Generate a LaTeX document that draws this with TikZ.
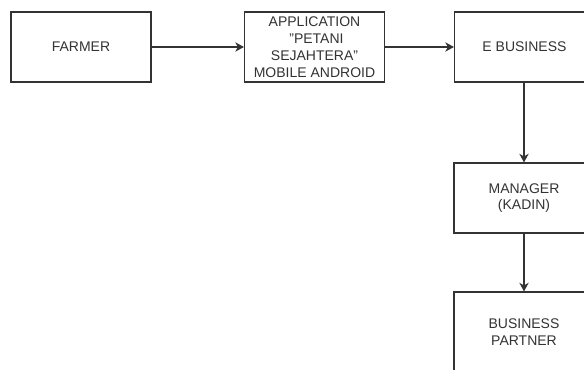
\documentclass[tikz,border=0pt]{standalone}
\usepackage{fontspec}
\setmainfont{Liberation Sans}
\usetikzlibrary{arrows.meta}
\definecolor{ln}{HTML}{333333}
\definecolor{tx}{HTML}{333333}
\newcommand{\sq}{\char34\relax}
\begin{document}
\begin{tikzpicture}[x=0.75pt,y=-0.75pt,
  box/.style={draw=ln, line width=0.85pt, fill=white, minimum width=105pt,
    minimum height=52.5pt, inner sep=0pt, align=center,
    font=\fontsize{10.5pt}{12.6pt}\selectfont, text=tx},
  conn/.style={draw=ln, line width=0.85pt,
    -{Stealth[length=6.5pt,width=7pt,inset=2pt]}}]
\useasboundingbox (0,0) rectangle (584,370);
\clip (0,0) rectangle (584,370);
\node[box] (farmer) at (81,47) {FARMER};
\node[box] (app) at (314.5,47) {APPLICATION\\ \ \sq PETANI\\ SEJAHTERA\sq\\ MOBILE ANDROID};
\node[box] (ebiz) at (524.5,47) {E BUSINESS};
\node[box] (manager) at (524,198) {MANAGER\\ (KADIN)};
\node[box, minimum height=60.75pt] (partner) at (524,332.5) {BUSINESS\\ PARTNER};
\draw[conn] (farmer) -- (app);
\draw[conn] (app) -- (ebiz);
\draw[conn] (ebiz.south -| manager.north) -- (manager.north);
\draw[conn] (manager) -- (partner);
\end{tikzpicture}
\end{document}
